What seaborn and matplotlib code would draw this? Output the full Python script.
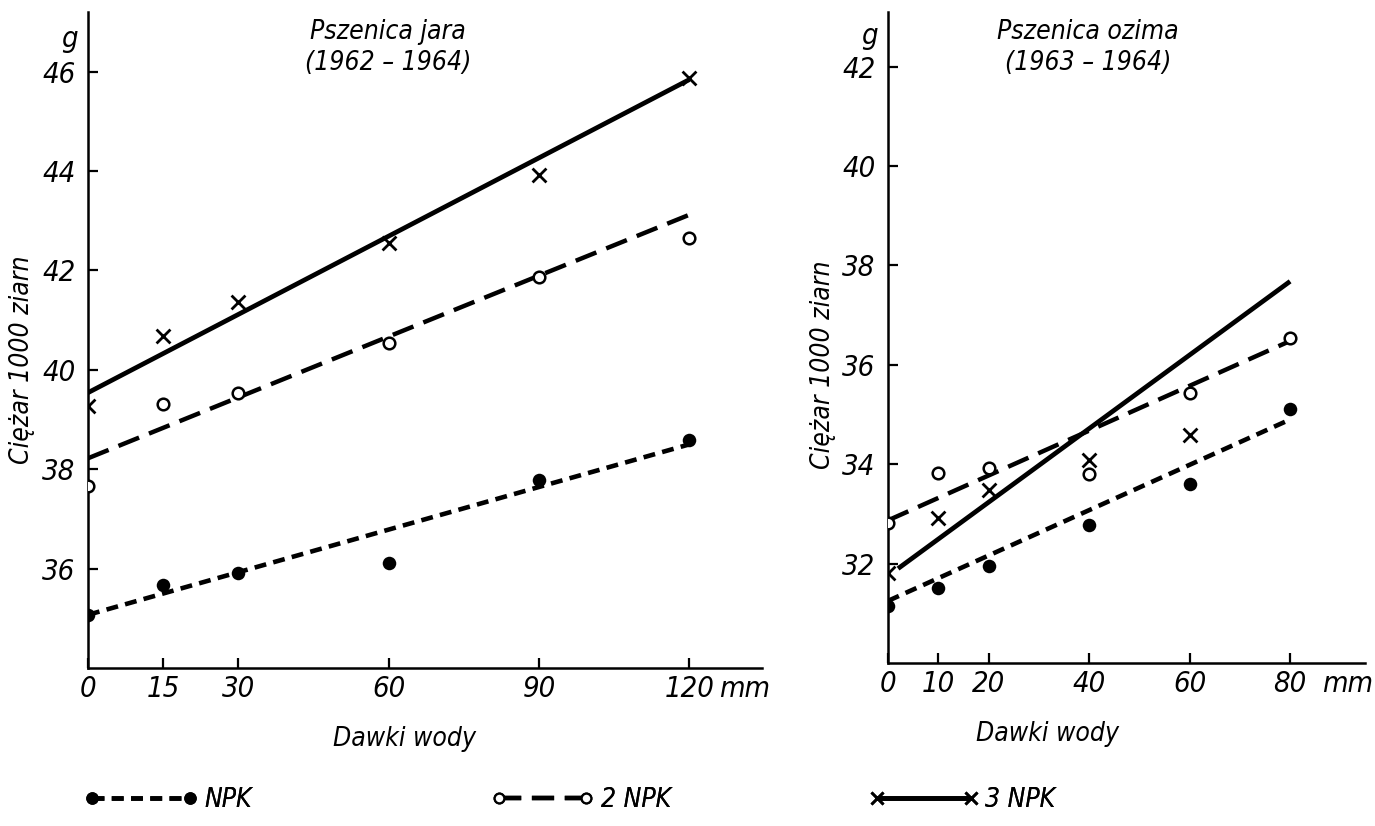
import numpy as np
import pandas as pd
import matplotlib
matplotlib.use("Agg")
import matplotlib.pyplot as plt
import seaborn as sns
from matplotlib.lines import Line2D
from matplotlib import font_manager

# ---------------- data ----------------
series_names = ["NPK", "2 NPK", "3 NPK"]

jara_doses = [0, 15, 30, 60, 90, 120]
jara_npk = [35.07, 35.68, 35.92, 36.12, 37.79, 38.58]
jara_2npk = [37.66, 39.32, 39.54, 40.54, 41.87, 42.66]
jara_3npk = [39.28, 40.68, 41.37, 42.56, 43.93, 45.88]
jara_fit_x = [0, 120]
jara_fit_npk = [35.07, 38.50]
jara_fit_2npk = [38.22, 43.12]
jara_fit_3npk = [39.54, 45.84]
jara_xticks = [0, 15, 30, 60, 90, 120]
jara_yticks = [36, 38, 40, 42, 44, 46]

ozima_doses = [0, 10, 20, 40, 60, 80]
ozima_npk = [31.15, 31.51, 31.96, 32.77, 33.60, 35.12]
ozima_2npk = [32.81, 33.82, 33.92, 33.80, 35.44, 36.53]
ozima_3npk_doses = [0, 10, 20, 40, 60]
ozima_3npk = [31.82, 32.91, 33.48, 34.09, 34.59]
ozima_fit_x = [0, 80]
ozima_fit_npk = [31.25, 34.90]
ozima_fit_2npk = [32.87, 36.48]
ozima_fit_3npk_x = [2, 80]
ozima_fit_3npk = [31.90, 37.68]
ozima_xticks = [0, 10, 20, 40, 60, 80]
ozima_yticks = [32, 34, 36, 38, 40, 42]

title_jara = "Pszenica jara\n(1962 – 1964)"
title_ozima = "Pszenica ozima\n(1963 – 1964)"
ylabel_text = "Ciężar 1000 ziarn"
xlabel_text = "Dawki wody"

# ---------------- style ----------------
sns.set_theme(style="ticks")
available = {f.name for f in font_manager.fontManager.ttflist}
FAMILY = "Liberation Sans Narrow" if "Liberation Sans Narrow" in available else "DejaVu Sans"
plt.rcParams["font.family"] = [FAMILY, "DejaVu Sans"]
for k in ["text.color", "axes.labelcolor", "xtick.color", "ytick.color", "axes.edgecolor"]:
    plt.rcParams[k] = "black"
FONT = dict(family=[FAMILY, "DejaVu Sans"], style="italic", stretch="condensed")
BIG = 23 if FAMILY != "DejaVu Sans" else 21
MID = 22 if FAMILY != "DejaVu Sans" else 19

LW_AX = 1.8
DASH = {"NPK": (2.6, 1.6), "2 NPK": (5.0, 2.4), "3 NPK": ""}
LW_LINE = {"NPK": 3.3, "2 NPK": 3.2, "3 NPK": 3.4}

fig = plt.figure(figsize=(13.75, 8.26), dpi=100)
W, H = 1375, 826


def px_axes(x0, x1, ytop, ybot):
    return fig.add_axes([x0 / W, (H - ybot) / H, (x1 - x0) / W, (ybot - ytop) / H])


ax1 = px_axes(88, 762, 12, 668)
ax2 = px_axes(888, 1365, 12, 663)


def draw_panel(ax, doses, npk, p2, d3, p3, fitx, fnpk, f2, fitx3, f3):
    fit = pd.DataFrame({
        "x": list(fitx) + list(fitx) + list(fitx3),
        "y": list(fnpk) + list(f2) + list(f3),
        "series": ["NPK"] * len(fitx) + ["2 NPK"] * len(fitx) + ["3 NPK"] * len(fitx3),
    })
    for name in series_names:
        sub = fit[fit.series == name]
        sns.lineplot(data=sub, x="x", y="y", ax=ax, color="black",
                     linewidth=LW_LINE[name], legend=False, zorder=2)
        ln = ax.lines[-1]
        if DASH[name]:
            ln.set_dashes(DASH[name])
        ln.set_solid_capstyle("butt")
        ln.set_dash_capstyle("butt")
    sns.scatterplot(x=doses, y=npk, ax=ax, marker="o", s=95, color="black",
                    edgecolor="black", linewidth=0, zorder=4, legend=False)
    sns.scatterplot(x=doses, y=p2, ax=ax, marker="o", s=70, facecolor="white",
                    edgecolor="black", linewidth=1.8, zorder=4, legend=False)
    sns.scatterplot(x=d3, y=p3, ax=ax, marker="x", s=100, color="black",
                    linewidth=2.0, zorder=4, legend=False)


draw_panel(ax1, jara_doses, jara_npk, jara_2npk, jara_doses, jara_3npk,
           jara_fit_x, jara_fit_npk, jara_fit_2npk, jara_fit_x, jara_fit_3npk)
draw_panel(ax2, ozima_doses, ozima_npk, ozima_2npk, ozima_3npk_doses, ozima_3npk,
           ozima_fit_x, ozima_fit_npk, ozima_fit_2npk, ozima_fit_3npk_x, ozima_fit_3npk)

ax1.set_xlim(0, 134.5)
ax1.set_ylim(34.0, 47.2)
ax2.set_xlim(0, 94.9)
ax2.set_ylim(30.0, 43.1)


def style_axes(ax, xt, yt, mm_pos, g_pos, title, title_x, ylab_xy, xlab_xy):
    for s in ["top", "right"]:
        ax.spines[s].set_visible(False)
    for s in ["left", "bottom"]:
        ax.spines[s].set_linewidth(LW_AX)
        ax.spines[s].set_color("black")
    ax.set_xticks(list(xt) + [mm_pos])
    ax.set_xticklabels([str(v) for v in xt] + ["mm"])
    ax.set_yticks(list(yt) + [g_pos])
    ax.set_yticklabels([str(v) for v in yt] + ["g"])
    ax.tick_params(axis="both", direction="in", length=7, width=1.6, colors="black")
    ax.tick_params(axis="x", pad=5)
    ax.tick_params(axis="y", pad=9)
    ax.xaxis.get_major_ticks()[-1].tick1line.set_visible(False)
    ax.yaxis.get_major_ticks()[-1].tick1line.set_visible(False)
    for lab in ax.get_xticklabels() + ax.get_yticklabels():
        lab.set_fontfamily(FONT["family"])
        lab.set_fontstyle(FONT["style"])
        lab.set_fontstretch(FONT["stretch"])
        lab.set_fontsize(BIG)
    ax.text(title_x, 0.946, title, transform=ax.transAxes, ha="center", va="center",
            fontsize=MID, linespacing=1.25, **FONT)
    ax.set_ylabel(ylabel_text, fontsize=MID, **FONT)
    ax.yaxis.set_label_coords(*ylab_xy)
    ax.set_xlabel(xlabel_text, fontsize=MID, **FONT)
    ax.xaxis.set_label_coords(*xlab_xy)
    ax.set_facecolor("white")


style_axes(ax1, jara_xticks, jara_yticks, 131.0, 46.72, title_jara, 0.445,
           (-0.078, 0.47), (0.47, -0.088))
style_axes(ax2, ozima_xticks, ozima_yticks, 91.5, 42.68, title_ozima, 0.419,
           (-0.11, 0.458), (0.335, -0.089))

# the "g" unit labels sit slightly closer to the axis than the numbers
for ax in (ax1, ax2):
    ax.yaxis.get_major_ticks()[-1].set_pad(7)

# ---------------- legend at the bottom ----------------
handles = [
    Line2D([], [], color="black", lw=LW_LINE["NPK"], dashes=DASH["NPK"], marker="o",
           markersize=8, markerfacecolor="black", markeredgecolor="black"),
    Line2D([], [], color="black", lw=LW_LINE["2 NPK"], dashes=DASH["2 NPK"], marker="o",
           markersize=7, markerfacecolor="white", markeredgecolor="black", markeredgewidth=1.6),
    Line2D([], [], color="black", lw=LW_LINE["3 NPK"], marker="x",
           markersize=9, markeredgewidth=2.0),
]
leg_pos = [(84, 4.3), (491, 3.9), (869, 4.15)]
for h, name, (xp, hl) in zip(handles, series_names, leg_pos):
    lg = fig.legend(handles=[h], labels=[name], loc="center left",
                    bbox_to_anchor=(xp / W, (H - 800) / H), frameon=False,
                    numpoints=2, handlelength=hl, handletextpad=0.25,
                    borderpad=0, borderaxespad=0,
                    prop=dict(family=FONT["family"], style=FONT["style"],
                              stretch=FONT["stretch"], size=MID))
    fig.add_artist(lg)

fig.savefig("out.png", dpi=100, facecolor="white")
